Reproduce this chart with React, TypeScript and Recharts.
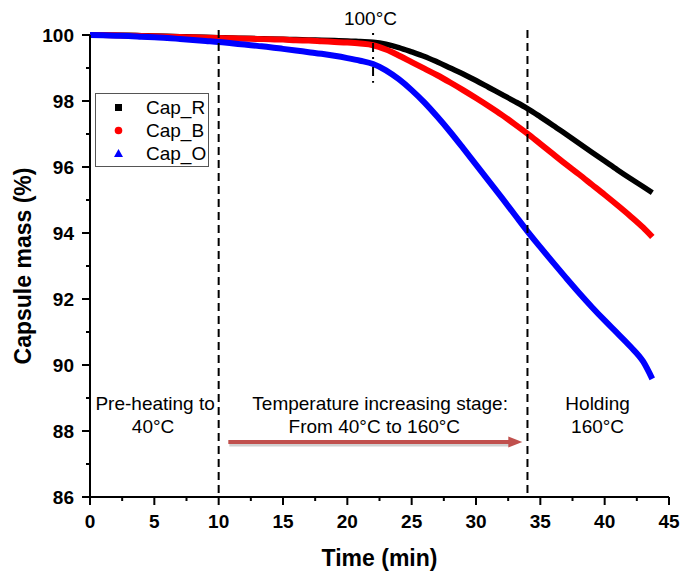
import React from 'react';
import {
  LineChart, Line, XAxis, YAxis, ReferenceLine, ReferenceDot, Legend,
} from 'recharts';

const times = [0, 1, 2, 3, 4, 5, 6, 7, 8, 9, 10, 11, 12, 13, 14, 15, 16, 17, 18, 19, 20, 21, 22, 23, 24, 25, 26, 27, 28, 29, 30, 31, 32, 33, 34, 35, 36, 37, 38, 39, 40, 41, 42, 43, 43.7];

const capR = [100.0, 100.0, 99.99, 99.99, 99.98, 99.97, 99.96, 99.95, 99.94, 99.93, 99.92, 99.91, 99.9, 99.89, 99.88, 99.87, 99.86, 99.85, 99.84, 99.83, 99.82, 99.8, 99.78, 99.72, 99.62, 99.49, 99.35, 99.18, 99.0, 98.82, 98.62, 98.41, 98.2, 97.99, 97.77, 97.52, 97.26, 96.99, 96.72, 96.45, 96.18, 95.91, 95.65, 95.4, 95.22];

const capB = [100.0, 100.0, 99.99, 99.98, 99.97, 99.96, 99.95, 99.94, 99.93, 99.92, 99.91, 99.9, 99.89, 99.88, 99.87, 99.86, 99.84, 99.83, 99.81, 99.79, 99.77, 99.74, 99.69, 99.56, 99.38, 99.18, 98.98, 98.78, 98.56, 98.33, 98.09, 97.84, 97.58, 97.3, 97.01, 96.7, 96.39, 96.08, 95.78, 95.47, 95.16, 94.84, 94.51, 94.16, 93.88];

const capO = [100.0, 99.99, 99.98, 99.97, 99.95, 99.93, 99.91, 99.88, 99.85, 99.82, 99.79, 99.75, 99.71, 99.67, 99.63, 99.58, 99.53, 99.48, 99.43, 99.37, 99.3, 99.22, 99.12, 98.93, 98.66, 98.33, 97.95, 97.52, 97.06, 96.57, 96.07, 95.57, 95.07, 94.56, 94.05, 93.57, 93.1, 92.64, 92.19, 91.76, 91.35, 90.96, 90.56, 90.1, 89.58];

const seriesNames = ['Cap_R', 'Cap_B', 'Cap_O'];
const seriesKeys = ['capR', 'capB', 'capO'];
const seriesColors = ['#000000', '#ff0000', '#0000ff'];

const xTicks = [0, 2.5, 5, 7.5, 10, 12.5, 15, 17.5, 20, 22.5, 25, 27.5, 30, 32.5, 35, 37.5, 40, 42.5, 45];
const yTicks = [86, 87, 88, 89, 90, 91, 92, 93, 94, 95, 96, 97, 98, 99, 100];

const stageLines = [10, 34];
const markLine = { t: 22, from: 100.06, to: 98.55 };

const annotations = [
  { t: 5.06, v: 88.64, text: 'Pre-heating to' },
  { t: 4.9, v: 87.94, text: '40°C' },
  { t: 22.55, v: 88.64, text: 'Temperature increasing stage:' },
  { t: 22.1, v: 87.94, text: 'From 40°C to 160°C' },
  { t: 39.45, v: 88.64, text: 'Holding' },
  { t: 39.45, v: 87.94, text: '160°C' },
  { t: 21.8, v: 100.3, text: '100°C' },
];

const arrow = { from: 10.75, to: 33.6, v: 87.67 };

const data = times.map((t, i) => ({ t, capR: capR[i], capB: capB[i], capO: capO[i] }));

const FONT = '"Liberation Sans", Arial, sans-serif';

const XTick = (props: any) => {
  const { x, y, payload } = props;
  const v = payload.value;
  const major = v % 5 === 0;
  return (
    <g>
      <line x1={x} x2={x} y1={y} y2={y + (major ? 8 : 4)} stroke="#000" strokeWidth={2} />
      {major && (
        <text x={x} y={y + 31} textAnchor="middle" fontFamily={FONT} fontWeight="bold" fontSize={19} fill="#000">
          {v}
        </text>
      )}
    </g>
  );
};

const YTick = (props: any) => {
  const { x, y, payload } = props;
  const v = payload.value;
  const major = v % 2 === 0;
  return (
    <g>
      <line x1={x} x2={x - (major ? 8 : 4)} y1={y} y2={y} stroke="#000" strokeWidth={2} />
      {major && (
        <text x={x - 16} y={y} dy="0.36em" textAnchor="end" fontFamily={FONT} fontWeight="bold" fontSize={19} fill="#000">
          {v}
        </text>
      )}
    </g>
  );
};

const makeLabel = (text: string) => (props: any) => {
  const vb = props.viewBox || {};
  const cx = (vb.x || 0) + (vb.width || 0) / 2;
  const cy = (vb.y || 0) + (vb.height || 0) / 2;
  return (
    <text x={cx} y={cy} textAnchor="middle" fontFamily={FONT} fontSize={19} fill="#000">
      {text}
    </text>
  );
};

const ArrowShape = (props: any) => {
  const { x1, y1, x2 } = props;
  const head = 14;
  return (
    <g>
      <line x1={x1 + 1} y1={y1 + 2.5} x2={x2 - head + 1} y2={y1 + 2.5} stroke="#b0b0b0" strokeWidth={4} strokeOpacity={0.6} />
      <line x1={x1} y1={y1} x2={x2 - head + 1} y2={y1} stroke="#c0504d" strokeWidth={4} />
      <polygon points={`${x2},${y1} ${x2 - head},${y1 - 5.5} ${x2 - head},${y1 + 5.5}`} fill="#c0504d" />
    </g>
  );
};

const LegendMarker = ({ i }: { i: number }) => {
  const c = seriesColors[i];
  if (i === 0) return <rect x={5} y={5} width={7} height={7} fill={c} />;
  if (i === 1) return <circle cx={8.5} cy={8.5} r={3.8} fill={c} />;
  return <polygon points="8.5,4 13,12 4,12" fill={c} />;
};

const LegendBox = () => (
  <div
    style={{
      width: 114,
      height: 74,
      boxSizing: 'border-box',
      border: '1px solid #555',
      background: '#fff',
      fontFamily: FONT,
      fontSize: 19,
      color: '#000',
      position: 'relative',
    }}
  >
    {seriesNames.map((name, i) => (
      <div key={name} style={{ position: 'absolute', left: 0, top: 2 + i * 23, height: 23, width: 112 }}>
        <svg width={17} height={17} style={{ position: 'absolute', left: 14, top: 3 }}>
          <LegendMarker i={i} />
        </svg>
        <span style={{ position: 'absolute', left: 50, top: 0, lineHeight: '23px', whiteSpace: 'nowrap' }}>{name}</span>
      </div>
    ))}
  </div>
);

export default function App() {
  return (
    <div style={{ position: 'fixed', left: 0, top: 0, width: 691, height: 571, background: '#fff' }}>
      <LineChart width={691} height={571} data={data} margin={{ top: 35, right: 22, left: 0, bottom: 0 }}>
        <XAxis
          dataKey="t"
          type="number"
          domain={[0, 45]}
          ticks={xTicks}
          interval={0}
          height={74}
          tickSize={0}
          tickMargin={0}
          tickLine={false}
          axisLine={{ stroke: '#000', strokeWidth: 2 }}
          tick={<XTick />}
          label={{
            value: 'Time (min)',
            position: 'insideBottom',
            offset: 5.5,
            style: { fontFamily: FONT, fontWeight: 'bold', fontSize: 23, fill: '#000' },
          }}
        />
        <YAxis
          type="number"
          domain={[86, 100]}
          ticks={yTicks}
          interval={0}
          width={90}
          tickSize={0}
          tickMargin={0}
          tickLine={false}
          axisLine={{ stroke: '#000', strokeWidth: 2 }}
          tick={<YTick />}
          label={{
            value: 'Capsule mass (%)',
            angle: -90,
            position: 'insideLeft',
            offset: 23,
            style: { fontFamily: FONT, fontWeight: 'bold', fontSize: 23, fill: '#000', textAnchor: 'middle' },
          }}
        />
        <Legend
          layout="vertical"
          align="center"
          verticalAlign="middle"
          wrapperStyle={{ left: 95, top: 93, width: 114 }}
          content={() => <LegendBox />}
        />
        {seriesKeys.map((k, i) => (
          <Line
            key={k}
            type="monotone"
            dataKey={k}
            name={seriesNames[i]}
            stroke={seriesColors[i]}
            strokeWidth={i === 0 ? 5.5 : 6}
            dot={false}
            activeDot={false}
            isAnimationActive={false}
          />
        ))}
        {stageLines.map((t) => (
          <ReferenceLine
            key={t}
            segment={[{ x: t, y: 100.15 }, { x: t, y: 86 }]}
            stroke="#000"
            strokeWidth={2}
            strokeDasharray="8 5"
            ifOverflow="visible"
          />
        ))}
        <ReferenceLine
          segment={[{ x: markLine.t, y: markLine.from }, { x: markLine.t, y: markLine.to }]}
          stroke="#000"
          strokeWidth={2}
          strokeDasharray="2 8 9 5"
          ifOverflow="visible"
        />
        <ReferenceLine
          segment={[{ x: arrow.from, y: arrow.v }, { x: arrow.to, y: arrow.v }]}
          ifOverflow="visible"
          shape={(p: any) => <ArrowShape {...p} />}
        />
        {annotations.map((a, i) => (
          <ReferenceDot
            key={i}
            x={a.t}
            y={a.v}
            r={0}
            fill="none"
            stroke="none"
            ifOverflow="visible"
            label={makeLabel(a.text)}
          />
        ))}
      </LineChart>
    </div>
  );
}
